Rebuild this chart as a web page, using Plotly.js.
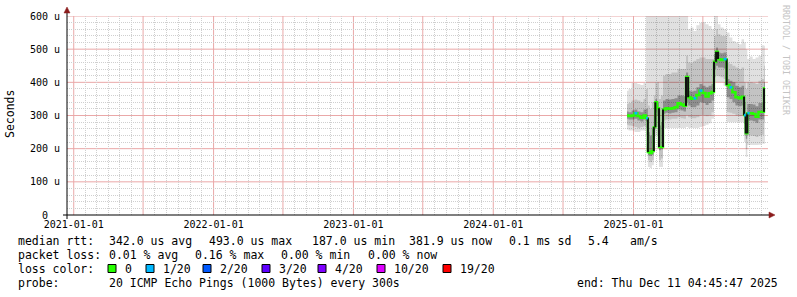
<!DOCTYPE html>
<html>
<head>
<meta charset="utf-8">
<script src="https://cdn.plot.ly/plotly-3.0.1.min.js"></script>
<style>html,body{margin:0;padding:0;background:#fff;}#chart{width:797px;height:297px;}</style>
</head>
<body>
<div id="chart"></div>
<script>
// ---------------- data (in microseconds) ----------------
const dates = ['2024-12-15','2024-12-23','2024-12-31','2025-01-07','2025-01-15','2025-01-23','2025-01-31','2025-02-05',
  '2025-02-10','2025-02-15','2025-02-21','2025-02-25','2025-03-01','2025-03-06','2025-03-11','2025-03-16',
  '2025-03-22','2025-03-29','2025-04-06','2025-04-14','2025-04-22','2025-04-30','2025-05-08','2025-05-15',
  '2025-05-21','2025-05-26','2025-06-03','2025-06-10','2025-06-18','2025-06-26','2025-07-04','2025-07-12',
  '2025-07-20','2025-07-27','2025-08-02','2025-08-07','2025-08-12','2025-08-20','2025-08-28','2025-09-05',
  '2025-09-12','2025-09-20','2025-09-28','2025-10-06','2025-10-14','2025-10-19','2025-10-23','2025-10-27',
  '2025-11-04','2025-11-12','2025-11-19','2025-11-27','2025-12-05','2025-12-10'];
const medianRtt = [300,298,300,307,298,293,300,292, 190,187,193,265,340,322,205,205,
  318,322,320,322,325,337,333,329, 416,355,350,352,362,375,368,357,
  367,371,462,492,470,467,470,392, 385,370,355,352,357,301,246,307,
  307,305,296,311,311,382];
const smokeMin = [258,255,255,250,250,255,255,240, 145,142,150,230,240,240,145,145,
  262,262,262,262,262,262,262,262, 265,262,262,262,262,265,268,272,
  277,290,400,400,400,400,390,280, 280,280,280,280,280,220,175,211,
  211,211,211,212,215,215];
const smokeP10 = [272,270,268,265,262,265,268,262, 165,160,165,245,270,265,165,170,
  285,288,288,290,290,295,292,290, 300,295,292,292,295,300,300,298,
  300,310,415,420,418,415,410,310, 308,305,300,298,300,240,200,240,
  240,238,235,240,242,280];
const smokeP25 = [290,288,288,290,285,282,288,282, 180,178,182,258,310,300,195,198,
  305,308,306,308,310,318,315,312, 340,330,325,325,330,340,338,332,
  338,345,440,450,445,445,442,355, 350,340,330,328,330,275,230,285,
  285,283,278,288,288,340];
const smokeP75 = [312,310,315,318,312,310,318,320, 250,240,260,300,350,340,270,280,
  345,350,348,350,352,360,360,358, 430,375,372,375,385,395,390,385,
  390,395,485,505,490,488,490,410, 405,400,390,385,390,340,300,335,
  335,333,328,338,340,400];
const smokeP90 = [335,338,345,348,345,340,350,380, 330,320,340,360,400,400,350,360,
  420,425,425,430,430,440,440,440, 480,460,460,465,470,475,475,470,
  470,470,540,560,545,540,540,460, 455,450,445,440,445,400,380,400,
  400,398,395,405,410,450];
const smokeMax = [375,380,398,398,395,392,398,600, 600,600,600,600,600,600,600,600,
  600,600,600,600,600,600,600,600, 600,560,565,555,572,580,582,575,
  570,560,600,600,575,565,560,550, 535,525,520,515,530,520,500,470,
  478,470,475,480,512,510];
const lostPings = [0,0,0,1,0,0,0,1, 0,0,0,0,0,0,0,0,
  0,0,0,0,0,0,0,0, 0,0,0,1,0,1,0,0,
  0,0,0,0,0,0,1,0, 1,0,0,0,0,1,0,1,
  0,0,0,0,0,0];

const lossLevels = [0,1,2,3,4,10,19];
const lossLabels = ['0','1/20','2/20','3/20','4/20','10/20','19/20'];
const lossColors = ['#26ff00','#00b8ff','#0059ff','#5e00ff','#7e00ff','#dd00ff','#ff0000'];

const xTickDates = ['2021-01-01','2021-07-01','2022-01-01','2022-07-01','2023-01-01','2023-07-01',
  '2024-01-01','2024-07-01','2025-01-01','2025-07-01'];
const xTickLabels = ['2021-01-01','','2022-01-01','','2023-01-01','','2024-01-01','','2025-01-01',''];
const yTickVals = [0,100,200,300,400,500,600];
const yTickLabels = ['0\u00a0\u00a0','100 u','200 u','300 u','400 u','500 u','600 u'];

const statsRtt = ['median rtt:','342.0 us avg','493.0 us max','187.0 us min','381.9 us now','0.1 ms sd','5.4','am/s'];
const statsLoss = ['packet loss:','0.01 % avg','0.16 % max','0.00 % min','0.00 % now'];
const probeText = ['probe:','20 ICMP Echo Pings (1000 Bytes) every 300s'];
const endText = 'end: Thu Dec 11 04:45:47 2025';

// ---------------- helpers ----------------
const X0 = 67, X1 = 768, Y0 = 215, Y1 = 16;
const px = x => (x - X0) / (X1 - X0);
const py = y => (Y0 - y) / (Y0 - Y1);
const MONO = 'DejaVu Sans Mono';
const X_RANGE = ['2020-12-14 10:00','2025-12-18'];
const Y_RANGE = [0,600];

const xMinor = [];
for (let yr = 2020; yr <= 2025; yr++) for (let m = 1; m <= 12; m++) {
  if (m === 1 || m === 7) continue;
  xMinor.push(yr + '-' + String(m).padStart(2,'0') + '-01');
}
const yMinor = [];
for (let v = 20; v < 600; v += 20) if (v % 100) yMinor.push(v);

function lossColor(n){
  let c = lossColors[0];
  lossLevels.forEach((lv,i)=>{ if(n >= lv) c = lossColors[i]; });
  return c;
}

function band(lo, hi, color){
  return [
    {x:dates, y:lo, type:'scatter', mode:'lines', line:{width:0, shape:'hvh'}, hoverinfo:'skip'},
    {x:dates, y:hi, type:'scatter', mode:'lines', line:{width:0, shape:'hvh'}, fill:'tonexty', fillcolor:color, hoverinfo:'skip'}
  ];
}

const pad2 = n => String(n).padStart(2,'0');
const toStr = t => { const d = new Date(t); return d.getUTCFullYear() + '-' + pad2(d.getUTCMonth()+1) + '-' + pad2(d.getUTCDate()) +
  ' ' + pad2(d.getUTCHours()) + ':' + pad2(d.getUTCMinutes()) + ':00'; };
const tms = dates.map(d => { const p = d.split('-').map(Number); return Date.UTC(p[0], p[1]-1, p[2]); });
const edge = i => toStr((tms[i] + tms[i+1]) / 2);

const jump = {x:[], y:[], type:'scatter', mode:'lines', line:{color:'#101010', width:2}, hoverinfo:'skip'};
for (let i = 0; i < medianRtt.length - 1; i++) {
  if (Math.abs(medianRtt[i+1] - medianRtt[i]) > 20) {
    jump.x.push(edge(i), edge(i), null);
    jump.y.push(medianRtt[i], medianRtt[i+1], null);
  }
}
const lossSeg = {};
medianRtt.forEach((v, i) => {
  if (!lostPings[i]) return;
  const col = lossColor(lostPings[i]);
  if (!lossSeg[col]) lossSeg[col] = {x:[], y:[], type:'scatter', mode:'lines', line:{color:col, width:2.6}, hoverinfo:'skip'};
  lossSeg[col].x.push(i ? edge(i-1) : dates[0], i < tms.length - 1 ? edge(i) : dates[i], null);
  lossSeg[col].y.push(v, v, null);
});

const traces = [
  ...band(smokeMin, smokeMax, 'rgba(0,0,0,0.12)'),
  ...band(smokeP10, smokeP90, 'rgba(0,0,0,0.13)'),
  ...band(smokeP25, smokeP75, 'rgba(0,0,0,0.27)'),
  {x:dates, y:medianRtt, type:'scatter', mode:'lines', line:{color:lossColors[0], width:2.4, shape:'hvh'}, hoverinfo:'skip'},
  jump,
  ...Object.values(lossSeg),
  {x:[], y:[], type:'scatter', mode:'lines', xaxis:'x2', yaxis:'y2', hoverinfo:'skip'}
];

const ann = [];
function txt(x, y, text, opts){
  ann.push(Object.assign({xref:'paper', yref:'paper', x:px(x), y:py(y), text:text, showarrow:false,
    xanchor:'left', yanchor:'middle', font:{family:MONO, size:11.5, color:'#000'}}, opts||{}));
}
const rttX = [16,107,207,310,407,507,586,628];
statsRtt.forEach((t,i)=>txt(rttX[i], 241, t));
const lossX = [16,107,193,279,366];
statsLoss.forEach((t,i)=>txt(lossX[i], 255, t));
txt(16, 269, 'loss color:');
const boxX = [108,146,203,262,318,377,443];
const shapes = [];
lossLabels.forEach((t,i)=>{
  txt(boxX[i] + 15, 269, t);
  shapes.push({type:'rect', xref:'paper', yref:'paper', x0:px(boxX[i]), x1:px(boxX[i]+8), y0:py(264.5), y1:py(272.5),
    fillcolor:lossColors[i], line:{color:'#000', width:1}});
});
txt(16, 283, probeText[0]);
txt(107, 283, probeText[1]);
txt(780, 283, endText, {xanchor:'right'});
txt(10, 114, 'Seconds', {xanchor:'center', textangle:-90});
txt(786, 60, 'RRDTOOL / TOBI OETIKER', {xanchor:'center', textangle:90, font:{family:MONO, size:8.3, color:'#c4c4c4'}});

// major (red) grid lines drawn as shapes at the tick positions
const majorGrid = '#eaa8a8';
xTickDates.forEach(d => shapes.push({type:'line', xref:'x', yref:'paper', x0:d, x1:d, y0:0, y1:1, layer:'below',
  line:{color:majorGrid, width:1}}));
yTickVals.filter(v => v > 0).forEach(v => shapes.push({type:'line', xref:'paper', yref:'y', x0:0, x1:1, y0:v, y1:v, layer:'below',
  line:{color:majorGrid, width:1}}));

shapes.push({type:'line', xref:'paper', yref:'paper', x0:px(63), x1:px(770), y0:py(215), y1:py(215), line:{color:'#000', width:1}});
shapes.push({type:'line', xref:'paper', yref:'paper', x0:px(67), x1:px(67), y0:py(219), y1:py(11), line:{color:'#000', width:1}});
const tri = pts => 'M' + pts.map(p => px(p[0]) + ',' + py(p[1])).join(' L') + ' Z';
shapes.push({type:'path', xref:'paper', yref:'paper', path:tri([[64,13],[70,13],[67,7]]), fillcolor:'#8b1c1c', line:{color:'#8b1c1c', width:0.5}});
shapes.push({type:'path', xref:'paper', yref:'paper', path:tri([[769,212],[769,218],[775,215]]), fillcolor:'#8b1c1c', line:{color:'#8b1c1c', width:0.5}});

const minorGrid = '#cfcfcf';
const layout = {
  width:797, height:297,
  margin:{l:67, r:29, t:16, b:82, pad:0},
  paper_bgcolor:'#fff', plot_bgcolor:'#fff',
  showlegend:false,
  font:{family:MONO, size:10, color:'#000'},
  xaxis:{type:'date', range:X_RANGE, tickmode:'array', tickvals:xTickDates, ticktext:xTickLabels,
    showgrid:false, ticks:'', showline:false, zeroline:false,
    tickfont:{family:MONO, size:10, color:'#000'}, ticklabelstandoff:2, fixedrange:true},
  yaxis:{range:Y_RANGE, tickmode:'array', tickvals:yTickVals, ticktext:yTickLabels,
    showgrid:false, ticks:'', showline:false, zeroline:false,
    tickfont:{family:MONO, size:10, color:'#000'}, ticklabelstandoff:6, fixedrange:true},
  xaxis2:{type:'date', overlaying:'x', anchor:'y', side:'bottom', range:X_RANGE, tickmode:'array', tickvals:xMinor, showticklabels:false,
    showgrid:true, gridcolor:minorGrid, griddash:'1px,1px', gridwidth:1, ticks:'', showline:false, zeroline:false, fixedrange:true},
  yaxis2:{overlaying:'y', anchor:'x', side:'left', range:Y_RANGE, tickmode:'array', tickvals:yMinor, showticklabels:false,
    showgrid:true, gridcolor:minorGrid, griddash:'1px,1px', gridwidth:1, ticks:'', showline:false, zeroline:false, fixedrange:true},
  annotations:ann,
  shapes:shapes
};
Plotly.newPlot('chart', traces, layout, {staticPlot:true, displayModeBar:false});
</script>
</body>
</html>
